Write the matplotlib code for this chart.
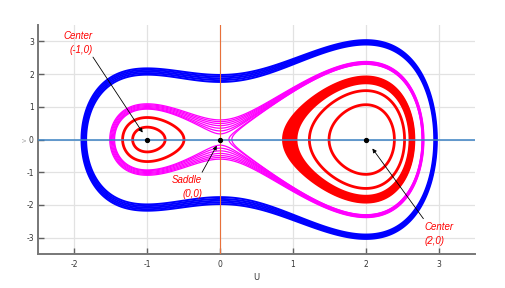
import numpy as np
import matplotlib
matplotlib.use("Agg")
import matplotlib.pyplot as plt

plt.rcParams["axes.unicode_minus"] = False

# ---- data ----
# system: u' = v, v' = -u(u+1)(u-2); energy H = v^2/2 + u^4/4 - u^3/3 - u^2
equilibria_u = [-1, 0, 2]
equilibria_v = [0, 0, 0]
blue_levels = [1.55, 1.65, 1.75, 1.85, 1.95]
magenta_levels = [0.015, 0.035, 0.06, 0.09, 0.12, 0.15, 0.18]
magenta_right_lobe_levels = [-0.027, -0.015]
red_left_levels = [-0.345, -0.19]
red_right_levels = [-2.1, -1.55]
red_right_band_levels = [-1.17, -1.12, -1.07, -1.02, -0.97, -0.92, -0.87, -0.83]
xticks = [-2, -1, 0, 1, 2, 3]
yticks = [-3, -2, -1, 0, 1, 2, 3]
labels = ["Center\n(-1,0)", "Saddle\n(0,0)", "Center\n(2,0)"]


def energy(u, v):
    return 0.5 * v ** 2 + u ** 4 / 4 - u ** 3 / 3 - u ** 2


fig = plt.figure(figsize=(5.06, 2.88), dpi=100)
ax = fig.add_axes([0.075, 0.118, 0.864, 0.795])

uu, vv = np.meshgrid(np.linspace(-2.5, 3.5, 900), np.linspace(-3.5, 3.5, 900))
H = energy(uu, vv)
ul, vl = np.meshgrid(np.linspace(-2.5, 0, 500), np.linspace(-3.5, 3.5, 900))
Hl = energy(ul, vl)
ur, vr = np.meshgrid(np.linspace(0, 3.5, 600), np.linspace(-3.5, 3.5, 900))
Hr = energy(ur, vr)

ckw = dict(linestyles="solid", zorder=2)
ax.contour(uu, vv, H, levels=blue_levels, colors="#0000ff", linewidths=1.4, **ckw)
ax.contour(uu, vv, H, levels=magenta_levels, colors="#ff00ff", linewidths=0.9, **ckw)
ax.contour(ur, vr, Hr, levels=magenta_right_lobe_levels, colors="#ff00ff", linewidths=0.9, **ckw)
ax.contour(ul, vl, Hl, levels=red_left_levels, colors="#ff0000", linewidths=2.0, **ckw)
ax.contour(ur, vr, Hr, levels=red_right_levels, colors="#ff0000", linewidths=2.0, **ckw)
ax.contour(ur, vr, Hr, levels=red_right_band_levels, colors="#ff0000", linewidths=1.9, **ckw)

ax.axhline(0, color="#3b82c4", lw=1.1, zorder=3)
ax.axvline(0, color="#e8703a", lw=0.8, zorder=3)
ax.plot(equilibria_u, equilibria_v, "o", color="black", ms=2.8, zorder=5)

ax.set_xlim(-2.5, 3.5)
ax.set_ylim(-3.5, 3.5)
ax.set_xticks(xticks)
ax.set_yticks(yticks)
ax.grid(True, color="#e2e2e2", lw=0.9, zorder=0)
ax.set_axisbelow(True)
for s in ["top", "right"]:
    ax.spines[s].set_visible(False)
for s in ["left", "bottom"]:
    ax.spines[s].set_color("#777777")
    ax.spines[s].set_linewidth(1.4)
ax.tick_params(direction="in", length=4, width=1, color="#606060",
               labelsize=5.5, labelcolor="#333333")
ax.tick_params(axis="x", pad=4)
ax.tick_params(axis="y", pad=3)
ax.set_xlabel("U", fontsize=6, color="#333333", labelpad=3)
ax.set_ylabel("v", fontsize=5, color="#aaaaaa", labelpad=-1)

fam = ["Liberation Sans Narrow", "Liberation Sans", "DejaVu Sans"]
tkw = dict(color="#ff0000", style="italic", fontsize=7, family=fam, linespacing=1.45,
           va="center", annotation_clip=False)
akw = dict(arrowstyle="-|>", color="black", lw=0.6, shrinkA=0, mutation_scale=6)

ax.annotate("", xy=(-1, 0), xytext=(-1.745, 2.52),
            arrowprops=dict(shrinkB=6, **akw), zorder=6)
ax.annotate(labels[0], xy=(-1.745, 2.95), ha="right", multialignment="right", **tkw)

ax.annotate("", xy=(0, 0), xytext=(-0.247, -1.0),
            arrowprops=dict(shrinkB=5, **akw), zorder=6)
ax.annotate(labels[1], xy=(-0.247, -1.45), ha="right", multialignment="right", **tkw)

ax.annotate("", xy=(2, 0), xytext=(2.79, -2.42),
            arrowprops=dict(shrinkB=8, **akw), zorder=6)
ax.annotate(labels[2], xy=(2.80, -2.88), ha="left", multialignment="left", **tkw)

fig.savefig("out.png", dpi=100)
